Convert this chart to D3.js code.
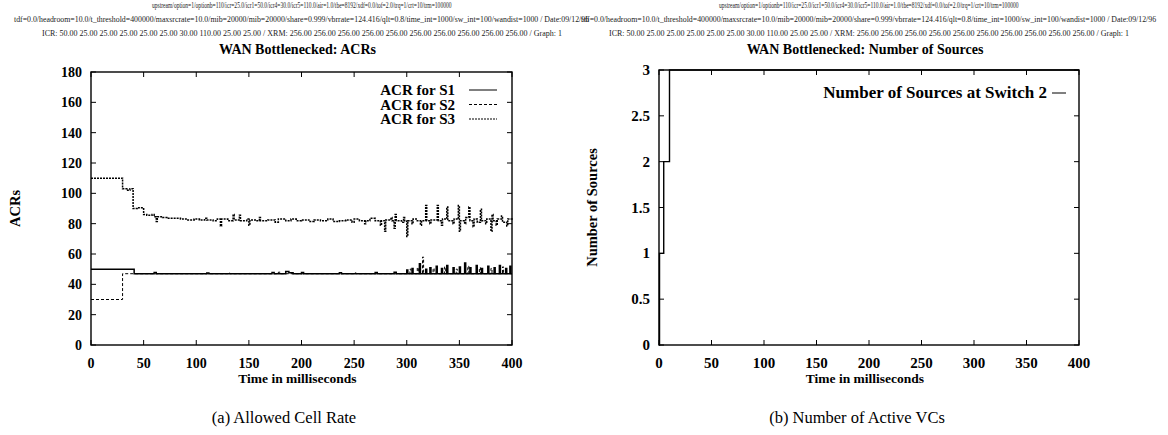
<!DOCTYPE html>
<html>
<head>
<meta charset="utf-8">
<script src="https://cdn.jsdelivr.net/npm/d3@7"></script>
<style>
  html, body { margin: 0; padding: 0; background: #fff; }
  svg { display: block; }
</style>
</head>
<body>
<div id="chart"></div>
<script>
// ---- data ----
const xTicks = [0, 50, 100, 150, 200, 250, 300, 350, 400];
const acrTicks = [0, 20, 40, 60, 80, 100, 120, 140, 160, 180];
const srcTicks = [0, 0.5, 1, 1.5, 2, 2.5, 3];

// [time ms, ACR]  (step after)
const acrS1 = [
  [0, 50], [41, 47], [60, 47.8], [62, 47], [110, 47.4], [112, 47], [172, 47.8], [174, 47],
  [185, 48.4], [188, 47.6], [192, 47], [200, 47.8], [202, 47], [236, 47.6], [238, 47],
  [270, 47.8], [272, 47], [288, 48], [290, 47], [300, 49.5], [301, 47], [305, 50.5], [306, 47],
  [312, 53.5], [313, 47], [318, 50], [319, 47], [322, 51], [323, 47], [328, 52], [329, 47],
  [333, 50.5], [334, 47], [338, 52.5], [339, 47], [344, 51], [345, 47], [350, 51.5], [351, 47],
  [355, 54], [356, 47], [360, 51], [361, 47], [366, 52.5], [367, 47], [371, 50.5], [372, 47],
  [377, 52], [378, 47], [383, 51], [384, 47], [388, 52.5], [389, 47], [394, 50.5], [395, 47],
  [398, 52], [399, 47], [400, 47]
];
const acrS2 = [
  [0, 30], [30, 47], [130, 47.5], [132, 47], [178, 48], [180, 47], [250, 47.5], [252, 47],
  [303, 50], [304, 47], [310, 51], [311, 47], [315, 58], [316, 47], [325, 50.5], [326, 47],
  [336, 51.5], [337, 47], [347, 50], [348, 47], [358, 52], [359, 47], [369, 51], [370, 47],
  [380, 50.5], [381, 47], [391, 51.5], [392, 47], [400, 47]
];
const acrS3 = [
  [0, 110], [30, 103], [34, 102], [37, 103], [40, 90], [44, 90.5], [50, 86], [53, 85.5], [58, 86],
  [60, 84.5], [62, 81.5], [63, 84.5], [68, 84], [72, 83.5], [80, 83.5], [85, 83], [92, 82.5],
  [98, 83], [103, 82.5], [108, 83.5], [110, 82.5], [116, 82], [120, 83], [123, 78.5], [124, 83],
  [130, 82], [135, 86], [136, 82.5], [141, 85.5], [142, 82], [148, 83], [150, 79], [151, 82.5],
  [157, 82], [160, 84], [161, 82], [168, 82.5], [175, 81], [178, 83], [185, 82], [190, 83],
  [195, 82], [200, 82.5], [207, 81.5], [212, 82.5], [218, 82], [225, 83], [230, 81.5], [236, 82],
  [242, 82.5], [248, 81], [250, 83], [255, 82], [260, 80], [261, 82], [265, 83.5], [270, 82],
  [275, 79], [276, 82], [279, 75], [280, 82.5], [285, 84], [286, 82], [288, 77], [289, 86],
  [290, 82], [295, 81], [297, 84], [298, 82], [300, 71.5], [301, 82], [305, 80], [306, 83],
  [310, 82], [313, 79], [314, 82], [318, 92], [319, 82], [322, 80], [323, 82.5], [329, 92],
  [330, 82], [333, 79], [334, 83], [338, 91], [339, 82], [344, 80], [345, 83], [349, 92],
  [350, 75], [351, 82], [355, 80], [356, 84], [359, 91], [360, 82], [363, 78], [364, 83],
  [367, 81], [370, 89.5], [371, 82], [375, 80], [376, 83], [380, 75], [381, 86], [382, 82],
  [385, 79], [386, 83], [390, 85], [391, 81], [395, 78.5], [396, 83], [400, 82]
];
// [time ms, number of sources]
const numSources = [[0, 0], [0.5, 1], [4.5, 2], [10, 3], [400, 3]];

const headerA = [
  'upstream/option=1/optionb=110/icr=25.0/icr1=50.0/icr4=30.0/icr5=110.0/air=1.0/tbe=8192/xdf=0.0/tof=2.0/trq=1/crt=10/trm=100000',
  'tdf=0.0/headroom=10.0/t_threshold=400000/maxsrcrate=10.0/mib=20000/mib=20000/share=0.999/vbrrate=124.416/qlt=0.8/time_int=1000/sw_int=100/wandist=1000 / Date:09/12/96',
  'ICR: 50.00 25.00 25.00 25.00 25.00 25.00 30.00 110.00 25.00 25.00 / XRM: 256.00 256.00 256.00 256.00 256.00 256.00 256.00 256.00 256.00 256.00 / Graph: 1'
];
const headerB = headerA;
const headerWidths = [300, 576, 520];

const svg = d3.select('#chart').append('svg')
  .attr('width', 1168).attr('height', 435);

const serif = '"Liberation Serif", "DejaVu Serif", serif';

// squeeze a text horizontally so that it spans `w` pixels centred on cx
function fitText(cx, y, w, str, size, weight) {
  const t = svg.append('text')
    .attr('font-family', serif).attr('font-size', size)
    .attr('font-weight', weight || 'normal')
    .attr('fill', '#222')
    .text(str);
  const len = t.node().getComputedTextLength();
  t.attr('transform', `translate(${cx - w / 2},${y}) scale(${w / len},1)`);
  return t;
}

function header(lines, cx) {
  const ys = [8, 22, 36];
  lines.forEach((s, i) => fitText(cx, ys[i], headerWidths[i], s, 7.5));
}
header(headerA, 302);
header(headerB, 869);

function panel(opts) {
  const x = d3.scaleLinear().domain([0, 400]).range([opts.x0, opts.x1]);
  const y = d3.scaleLinear().domain(opts.yDomain).range([opts.yBot, opts.yTop]);
  const g = svg.append('g');
  const cx = (opts.x0 + opts.x1) / 2;

  // frame
  g.append('rect')
    .attr('x', opts.x0).attr('y', opts.yTop)
    .attr('width', opts.x1 - opts.x0).attr('height', opts.yBot - opts.yTop)
    .attr('fill', 'none').attr('stroke', '#000').attr('stroke-width', 1.4);

  // inward ticks on all sides
  const tl = 5;
  opts.yTicks.forEach((v) => {
    g.append('line').attr('x1', opts.x0).attr('x2', opts.x0 + tl)
      .attr('y1', y(v)).attr('y2', y(v)).attr('stroke', '#000');
    g.append('line').attr('x1', opts.x1).attr('x2', opts.x1 - tl)
      .attr('y1', y(v)).attr('y2', y(v)).attr('stroke', '#000');
    g.append('text')
      .attr('x', opts.x0 - 9).attr('y', y(v) + 5)
      .attr('text-anchor', 'end')
      .attr('font-family', serif).attr('font-weight', 'bold')
      .attr('font-size', opts.tickSize)
      .text(v);
  });
  xTicks.forEach((v) => {
    g.append('line').attr('x1', x(v)).attr('x2', x(v))
      .attr('y1', opts.yBot).attr('y2', opts.yBot - tl).attr('stroke', '#000');
    g.append('line').attr('x1', x(v)).attr('x2', x(v))
      .attr('y1', opts.yTop).attr('y2', opts.yTop + tl).attr('stroke', '#000');
    g.append('text')
      .attr('x', x(v)).attr('y', 368)
      .attr('text-anchor', 'middle')
      .attr('font-family', serif).attr('font-weight', 'bold')
      .attr('font-size', opts.tickSize)
      .text(v);
  });

  // titles
  g.append('text')
    .attr('x', cx - 4).attr('y', 54)
    .attr('text-anchor', 'middle')
    .attr('font-family', serif).attr('font-weight', 'bold').attr('font-size', 14)
    .text(opts.title);
  g.append('text')
    .attr('x', cx - 4).attr('y', 383)
    .attr('text-anchor', 'middle')
    .attr('font-family', serif).attr('font-weight', 'bold').attr('font-size', 13.5)
    .text('Time in milliseconds');
  g.append('text')
    .attr('transform', `translate(${opts.yLabelX},${(opts.yTop + opts.yBot) / 2}) rotate(-90)`)
    .attr('text-anchor', 'middle')
    .attr('font-family', serif).attr('font-weight', 'bold').attr('font-size', 14.5)
    .text(opts.yLabel);
  g.append('text')
    .attr('x', opts.captionX).attr('y', 423)
    .attr('text-anchor', 'middle')
    .attr('font-family', serif).attr('font-size', 16.5)
    .text(opts.caption);

  const line = d3.line()
    .x((d) => x(d[0]))
    .y((d) => y(d[1]))
    .curve(d3.curveStepAfter);

  opts.series.forEach((s, i) => {
    g.append('path')
      .datum(s.data)
      .attr('d', line)
      .attr('fill', 'none')
      .attr('stroke', '#000')
      .attr('stroke-width', s.width)
      .attr('stroke-dasharray', s.dash);

    // legend
    const ly = opts.legendY + i * 14.5;
    g.append('text')
      .attr('x', opts.legendTextX).attr('y', ly + 5)
      .attr('text-anchor', 'end')
      .attr('font-family', serif).attr('font-weight', 'bold')
      .attr('font-size', opts.legendSize)
      .text(s.label);
    g.append('line')
      .attr('x1', opts.legendLine[0]).attr('x2', opts.legendLine[1])
      .attr('y1', ly).attr('y2', ly)
      .attr('stroke', '#000').attr('stroke-width', 1)
      .attr('stroke-dasharray', s.dash);
  });
}

panel({
  x0: 91, x1: 512, yTop: 72, yBot: 345,
  yDomain: [0, 180], yTicks: acrTicks, tickSize: 14,
  title: 'WAN Bottlenecked: ACRs', yLabel: 'ACRs', yLabelX: 20,
  caption: '(a) Allowed Cell Rate', captionX: 284,
  legendY: 90, legendTextX: 455, legendLine: [469, 497], legendSize: 15,
  series: [
    { label: 'ACR for S1', data: acrS1, dash: null, width: 1.5 },
    { label: 'ACR for S2', data: acrS2, dash: '3,2', width: 1 },
    { label: 'ACR for S3', data: acrS3, dash: '2,1', width: 1.5 },
  ],
});

panel({
  x0: 659, x1: 1079, yTop: 70, yBot: 345,
  yDomain: [0, 3], yTicks: srcTicks, tickSize: 15,
  title: 'WAN Bottlenecked: Number of Sources', yLabel: 'Number of Sources', yLabelX: 597,
  caption: '(b) Number of Active VCs', captionX: 857,
  legendY: 93, legendTextX: 1047, legendLine: [1052, 1066], legendSize: 17,
  series: [
    { label: 'Number of Sources at Switch 2', data: numSources, dash: null, width: 1.4 },
  ],
});
</script>
</body>
</html>
